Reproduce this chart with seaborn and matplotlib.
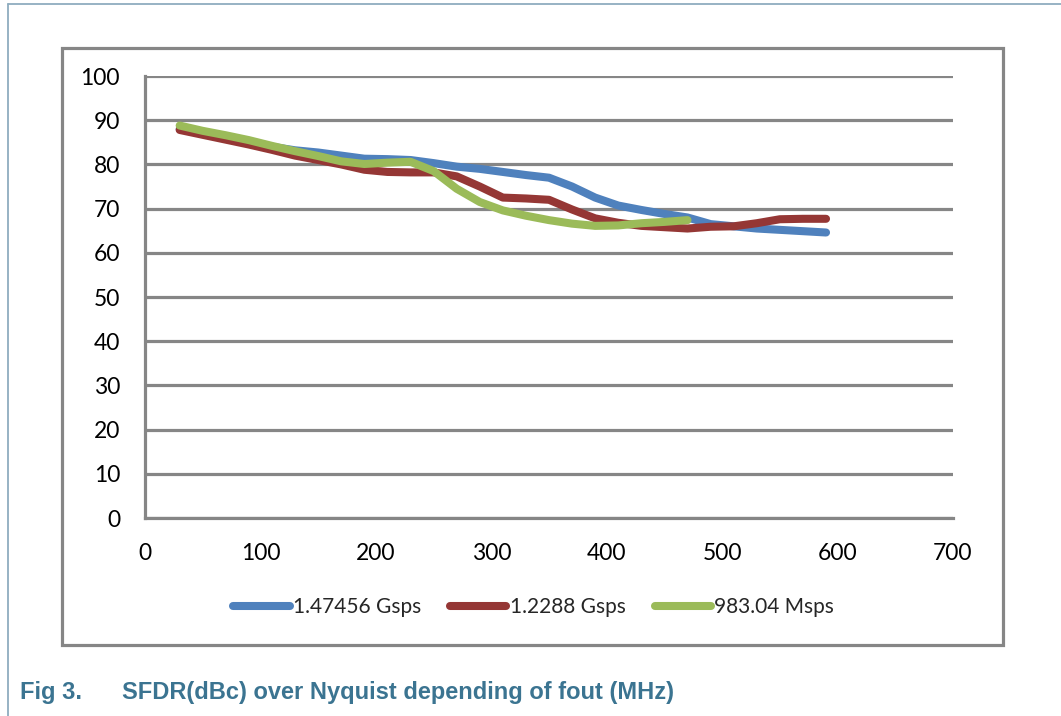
import numpy as np
import pandas as pd
import seaborn as sns
import matplotlib.pyplot as plt
from matplotlib.patches import Rectangle
from matplotlib.lines import Line2D

# Values (fout in MHz, SFDR in dBc)
fout_a = [30, 50, 70, 90, 110, 130, 150, 170, 190, 210, 230, 250, 270, 290,
          310, 330, 350, 370, 390, 410, 430, 450, 470, 490, 510, 530, 550, 570, 590]
sfdr_1g47 = [88.0, 87.0, 86.0, 85.0, 84.0, 83.2, 82.7, 82.0, 81.3, 81.2, 81.0, 80.3, 79.5, 79.0,
             78.3, 77.6, 77.0, 75.0, 72.5, 70.7, 69.7, 68.8, 68.0, 66.5, 66.0, 65.5, 65.2, 64.9, 64.6]
sfdr_1g23 = [87.8, 86.7, 85.6, 84.5, 83.3, 82.0, 81.0, 80.0, 78.8, 78.3, 78.2, 78.2, 77.3, 75.0,
             72.5, 72.3, 72.0, 69.8, 67.8, 66.8, 66.1, 65.8, 65.5, 65.9, 66.0, 66.7, 67.6, 67.7, 67.7]
fout_c = [30, 50, 70, 90, 110, 130, 150, 170, 190, 210, 230, 250, 270, 290,
          310, 330, 350, 370, 390, 410, 430, 450, 470]
sfdr_983m = [88.8, 87.6, 86.6, 85.5, 84.2, 83.0, 81.9, 80.7, 80.1, 80.4, 80.6, 78.5, 74.5, 71.5,
             69.6, 68.4, 67.4, 66.6, 66.1, 66.2, 66.7, 67.0, 67.4]

labels = ["1.47456 Gsps", "1.2288 Gsps", "983.04 Msps"]
colors = ["#4F81BD", "#953735", "#9BBB59"]

df = pd.concat([
    pd.DataFrame({"fout": fout_a, "sfdr": sfdr_1g47, "rate": labels[0]}),
    pd.DataFrame({"fout": fout_a, "sfdr": sfdr_1g23, "rate": labels[1]}),
    pd.DataFrame({"fout": fout_c, "sfdr": sfdr_983m, "rate": labels[2]}),
])

sns.set_style("white")
plt.rcParams["font.family"] = ["Lato", "DejaVu Sans"]

fig = plt.figure(figsize=(10.61, 7.16), dpi=100)
ax = fig.add_axes([0.1367, 0.2765, 0.7615, 0.6173])

grid_col = "#868686"
sns.lineplot(data=df, x="fout", y="sfdr", hue="rate", palette=colors, ax=ax,
             lw=5.8, solid_capstyle="round", solid_joinstyle="round",
             legend=False, zorder=3, sort=False)

ax.set_xlim(0, 700)
ax.set_ylim(0, 100)
ax.set_xticks(range(0, 701, 100))
ax.set_yticks(range(0, 101, 10))
ax.set_xlabel("")
ax.set_ylabel("")
ax.yaxis.grid(True, color=grid_col, lw=2.3)
ax.xaxis.grid(False)
ax.set_axisbelow(True)
for s in ["top", "right"]:
    ax.spines[s].set_visible(False)
for s in ["left", "bottom"]:
    ax.spines[s].set_color(grid_col)
    ax.spines[s].set_linewidth(2.3)
ax.tick_params(axis="both", direction="out", length=7, width=2.3, color=grid_col,
               labelsize=16.5, labelcolor="black")
ax.tick_params(axis="y", pad=11)
ax.tick_params(axis="x", pad=11)

handles = [Line2D([], [], color=c, lw=5.8, solid_capstyle="round") for c in colors]
fig.legend(handles, labels, loc="center", bbox_to_anchor=(0.503, 0.152), ncol=3,
           frameon=False, fontsize=15, handlelength=2.7, handletextpad=0.15,
           columnspacing=1.4)

# chart box and page frame
fig.patches.append(Rectangle((0.0584, 0.0992), 0.8869, 0.8338, transform=fig.transFigure,
                             fill=False, edgecolor=grid_col, lw=2.3))
frame_col = "#8FADBF"
fig.add_artist(Line2D([0.0075, 1.0], [0.9945, 0.9945], transform=fig.transFigure,
                      color=frame_col, lw=1.3))
fig.add_artist(Line2D([0.0075, 0.0075], [0.0, 0.9945], transform=fig.transFigure,
                      color=frame_col, lw=1.3))

cap_font = ["Liberation Sans", "DejaVu Sans"]
fig.text(20 / 1061, 1 - 693 / 716, "Fig 3.", color="#3B7491", fontsize=17,
         fontweight="bold", family=cap_font, va="center")
fig.text(122 / 1061, 1 - 693 / 716, "SFDR(dBc) over Nyquist depending of fout (MHz)",
         color="#3B7491", fontsize=17, fontweight="bold", family=cap_font, va="center")

fig.savefig("out.png", dpi=100)
